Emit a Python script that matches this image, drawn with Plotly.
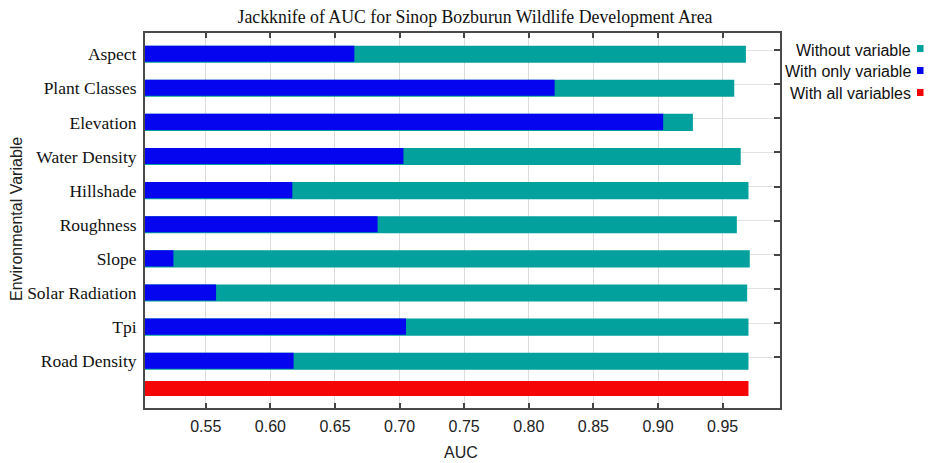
import plotly.graph_objects as go

categories = ["Aspect", "Plant Classes", "Elevation", "Water Density", "Hillshade",
              "Roughness", "Slope", "Solar Radiation", "Tpi", "Road Density"]
without_variable = [0.968, 0.959, 0.927, 0.964, 0.970, 0.961, 0.971, 0.969, 0.970, 0.970]
with_only_variable = [0.665, 0.820, 0.904, 0.703, 0.617, 0.683, 0.525, 0.558, 0.705, 0.618]
with_all_variables = [0.970]
all_label = [" "]
x_ticks = [0.55, 0.60, 0.65, 0.70, 0.75, 0.80, 0.85, 0.90, 0.95]

TEAL = "#02A19E"
BLUE = "#0505F0"
RED = "#F50505"

# page body has an 8px margin; compensate so the picture lines up with the window
OFF = 8
W, H = 932 - OFF, 463 - OFF
PX0, PX1, PY0, PY1 = 145, 780, 33, 408   # plot area in window pixels
L, T = PX0 - OFF, PY0 - OFF
PW, PH = PX1 - PX0, PY1 - PY0
R, B = W - L - PW, H - T - PH

def px_x(px):
    return (px - PX0) / PW

def px_y(py):
    return 1 - (py - PY0) / PH

SERIF = "Liberation Serif, Times New Roman, serif"
SANS = "Liberation Sans, Arial, sans-serif"

fig = go.Figure()
fig.add_trace(go.Bar(y=categories, x=without_variable, orientation="h",
                     marker=dict(color=TEAL, line=dict(width=0)),
                     width=0.5, offset=-0.25, name="Without variable", showlegend=False))
fig.add_trace(go.Bar(y=categories, x=with_only_variable, orientation="h",
                     marker=dict(color=BLUE, line=dict(width=0)),
                     width=0.47, offset=-0.25, name="With only variable", showlegend=False))
fig.add_trace(go.Bar(y=all_label, x=with_all_variables, orientation="h",
                     marker=dict(color=RED, line=dict(width=0)),
                     width=0.44, offset=-0.42, name="With all variables", showlegend=False))
fig.add_trace(go.Scatter(x=[None], y=[None], yaxis="y2", mode="markers",
                         showlegend=False, hoverinfo="skip"))

yr = [10.37, -0.62]
fig.update_layout(
    width=W, height=H,
    margin=dict(l=L, r=R, t=T, b=B, autoexpand=False),
    paper_bgcolor="white", plot_bgcolor="white",
    barmode="overlay",
    showlegend=False,
    xaxis=dict(range=[0.503, 0.9944], tickvals=x_ticks,
               ticktext=[f"{v:.2f}" for v in x_ticks],
               ticks="inside", ticklen=5, tickwidth=2, tickcolor="#444",
               showline=True, linecolor="#4a4a4a", linewidth=2, mirror="ticks",
               showgrid=True, gridcolor="#dcdcdc", gridwidth=1, zeroline=False,
               tickfont=dict(family=SANS, size=16, color="#222"),
               ticklabelstandoff=3),
    yaxis=dict(type="category", categoryorder="array",
               categoryarray=categories + all_label, range=yr,
               ticks="", showline=True, linecolor="#4a4a4a", linewidth=2, mirror=True,
               showgrid=False, zeroline=False,
               tickfont=dict(family=SERIF, size=17.5, color="#111"),
               ticklabelstandoff=3),
    yaxis2=dict(overlaying="y", side="right", range=yr, type="linear",
                tickvals=[i - 0.12 for i in range(len(categories))],
                ticks="inside", ticklen=6, tickwidth=2, tickcolor="#444",
                showticklabels=False, showline=False,
                showgrid=True, gridcolor="#e2e2e2", gridwidth=1, zeroline=False),
    title=dict(text="Jackknife of AUC for Sinop Bozburun Wildlife Development Area",
               font=dict(family=SERIF, size=17.8, color="#111"),
               x=px_x(475), xref="paper", xanchor="center",
               y=1 - (17 - OFF) / H, yref="container", yanchor="middle"),
)

annotations = [
    dict(text="Environmental Variable", x=px_x(16), y=px_y(219), xref="paper", yref="paper",
         textangle=-90, showarrow=False, xanchor="center", yanchor="middle",
         font=dict(family=SANS, size=16, color="#222")),
    dict(text="AUC", x=px_x(461), y=px_y(452), xref="paper", yref="paper",
         showarrow=False, xanchor="center", yanchor="middle",
         font=dict(family=SANS, size=16, color="#222")),
]
legend_items = [("Without variable", TEAL, 50), ("With only variable", BLUE, 72),
                ("With all variables", RED, 94)]
shapes = []
for text, col, ly in legend_items:
    annotations.append(dict(text=text, x=px_x(913), y=px_y(ly), xref="paper", yref="paper",
                            showarrow=False, xanchor="right", yanchor="middle",
                            font=dict(family=SANS, size=16, color="#111")))
    shapes.append(dict(type="rect", xref="paper", yref="paper",
                       x0=px_x(917), x1=px_x(923.5), y0=px_y(ly - 5), y1=px_y(ly + 2),
                       fillcolor=col, line=dict(width=0)))
fig.update_layout(annotations=annotations, shapes=shapes)

fig.write_html("out.html")
